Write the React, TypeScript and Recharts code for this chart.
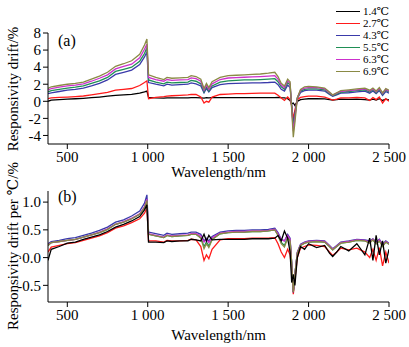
import { LineChart, Line, XAxis, YAxis } from "recharts";

const FONT = '"Liberation Serif", "Times New Roman", "DejaVu Serif", "Noto Sans CJK SC", serif';

// wavelength samples (nm)
const wavelengths = [
  380, 400, 450, 500, 550, 600, 650, 700, 750, 800, 850, 900, 950, 980, 995,
  1005, 1050, 1100, 1120, 1150, 1200, 1250, 1270, 1300, 1330, 1350, 1365, 1380, 1400, 1450,
  1500, 1550, 1600, 1650, 1700, 1750, 1790, 1810, 1830, 1850, 1870, 1885, 1895, 1905, 1915,
  1930, 1950, 1975, 2000, 2050, 2100, 2130, 2150, 2175, 2200, 2250, 2300, 2350, 2380, 2400,
  2420, 2440, 2460, 2480, 2500,
];

// (a) responsivity drift, %
const driftA14 = [
  0.0, 0.15, 0.2, 0.25, 0.3, 0.35, 0.42, 0.5, 0.6, 0.7, 0.75, 0.82, 0.95, 1.1, 1.2,
  0.45, 0.4, 0.38, 0.4, 0.4, 0.4, 0.4, 0.42, 0.42, 0.4, 0.38, 0.42, 0.4, 0.42, 0.42,
  0.42, 0.43, 0.43, 0.43, 0.43, 0.43, 0.44, 0.45, 0.42, 0.4, 0.3, 0.1, -0.3, -0.2, -0.5,
  0.0, 0.2, 0.25, 0.3, 0.3, 0.28, 0.2, 0.15, 0.2, 0.25, 0.22, 0.25, 0.2, 0.15, 0.25,
  0.15, 0.3, 0.1, 0.25, 0.15,
];
const driftA27 = [
  0.3, 0.4, 0.45, 0.5, 0.55, 0.62, 0.75, 0.9, 1.05, 1.3, 1.4, 1.5, 1.85, 2.2, 2.4,
  0.3, 0.45, 0.55, 0.6, 0.65, 0.7, 0.75, 0.8, 0.8, 0.5, -0.2, 0.0, -0.1, 0.5, 0.8,
  0.85, 0.9, 0.9, 0.92, 0.95, 0.95, 0.95, 0.7, 0.4, 0.1, 0.5, 0.2, -0.5, -2.1, -1.0,
  0.2, 0.45, 0.55, 0.6, 0.6, 0.5, 0.3, 0.15, 0.25, 0.4, 0.4, 0.45, 0.4, 0.1, 0.45,
  0.2, 0.5, -0.2, 0.3, 0.0,
];
const driftA43 = [
  0.9, 1.0, 1.15, 1.3, 1.4, 1.55, 1.8, 2.1, 2.5, 3.15, 3.4, 3.65, 4.3, 5.2, 5.8,
  2.2, 2.0, 1.8, 2.0, 1.9, 1.95, 2.0, 2.15, 2.05, 1.8, 1.0, 1.5, 1.1, 1.6, 1.95,
  2.07, 2.1, 2.12, 2.15, 2.17, 2.2, 2.25, 1.95, 1.4, 1.2, 1.9, 1.6, -0.5, -2.8, -1.5,
  0.3, 1.05, 1.25, 1.3, 1.3, 1.2, 0.8, 0.6, 0.75, 0.95, 1.0, 1.1, 1.2, 0.95, 1.2,
  0.9, 1.25, 0.7, 1.15, 0.95,
];
const driftA55 = [
  1.1, 1.25, 1.4, 1.55, 1.65, 1.8, 2.1, 2.4, 2.8, 3.5, 3.75, 4.0, 4.7, 5.6, 6.3,
  2.5, 2.25, 2.05, 2.25, 2.15, 2.2, 2.25, 2.45, 2.35, 2.05, 1.1, 1.7, 1.2, 1.8, 2.25,
  2.4, 2.45, 2.5, 2.52, 2.55, 2.6, 2.65, 2.3, 1.7, 1.4, 2.2, 1.9, -0.6, -3.0, -1.7,
  0.4, 1.2, 1.4, 1.45, 1.45, 1.35, 0.9, 0.65, 0.85, 1.05, 1.15, 1.25, 1.35, 1.1, 1.35,
  1.0, 1.4, 0.8, 1.3, 1.1,
];
const driftA63 = [
  1.3, 1.5, 1.65, 1.8, 1.9, 2.05, 2.35, 2.7, 3.1, 3.8, 4.1, 4.35, 5.1, 6.1, 6.7,
  2.8, 2.55, 2.35, 2.55, 2.45, 2.5, 2.55, 2.75, 2.65, 2.35, 1.3, 1.9, 1.4, 2.05, 2.55,
  2.73, 2.78, 2.82, 2.86, 2.9, 2.95, 3.0, 2.6, 1.9, 1.6, 2.4, 2.1, -0.8, -3.5, -2.0,
  0.4, 1.3, 1.55, 1.6, 1.6, 1.45, 1.0, 0.7, 0.95, 1.15, 1.25, 1.35, 1.45, 1.2, 1.45,
  1.1, 1.5, 0.9, 1.4, 1.2,
];
const driftA69 = [
  1.5, 1.7, 1.85, 2.0, 2.1, 2.25, 2.6, 2.95, 3.4, 4.1, 4.4, 4.75, 5.5, 6.6, 7.3,
  3.1, 2.8, 2.55, 2.8, 2.7, 2.75, 2.8, 3.0, 2.9, 2.6, 1.5, 2.1, 1.6, 2.3, 2.8,
  3.0, 3.05, 3.1, 3.15, 3.2, 3.3, 3.4, 2.9, 2.1, 1.8, 2.6, 2.3, -1.0, -4.2, -2.5,
  0.4, 1.4, 1.7, 1.75, 1.7, 1.55, 1.1, 0.75, 1.0, 1.25, 1.35, 1.45, 1.55, 1.3, 1.55,
  1.2, 1.6, 1.0, 1.5, 1.3,
];

// (b) responsivity drift per degree, %
const perB14 = [
  -0.05, 0.15, 0.2, 0.26, 0.28, 0.33, 0.37, 0.41, 0.47, 0.55, 0.6, 0.66, 0.74, 0.86, 0.95,
  0.28, 0.28, 0.27, 0.3, 0.29, 0.3, 0.3, 0.33, 0.32, 0.3, 0.42, 0.3, 0.4, 0.32, 0.33,
  0.33, 0.33, 0.33, 0.34, 0.34, 0.34, 0.35, 0.4, 0.3, 0.48, 0.35, 0.1, -0.45, -0.3, -0.5,
  0.0, 0.2, 0.15, 0.25, 0.18, 0.22, 0.08, 0.02, 0.1, 0.2, 0.12, 0.25, 0.05, 0.35, -0.05,
  0.4, 0.05, 0.3, -0.1, 0.15,
];
const perB27 = [
  0.1, 0.19, 0.22, 0.25, 0.27, 0.31, 0.35, 0.39, 0.45, 0.53, 0.57, 0.63, 0.7, 0.8, 0.9,
  0.3, 0.3, 0.28, 0.31, 0.3, 0.3, 0.31, 0.33, 0.32, 0.2, -0.05, 0.05, -0.02, 0.15, 0.32,
  0.34, 0.34, 0.34, 0.35, 0.35, 0.35, 0.36, 0.25, 0.1, 0.0, 0.15, 0.05, -0.2, -0.66, -0.4,
  0.0, 0.17, 0.2, 0.23, 0.22, 0.2, 0.1, 0.04, 0.1, 0.17, 0.14, 0.17, 0.1, 0.0, 0.15,
  -0.05, 0.18, -0.15, 0.1, -0.1,
];
const perB43 = [
  0.25, 0.29, 0.31, 0.34, 0.36, 0.4, 0.44, 0.49, 0.55, 0.64, 0.68, 0.75, 0.84, 0.98, 1.13,
  0.46, 0.43, 0.4, 0.44, 0.42, 0.43, 0.44, 0.46, 0.46, 0.42, 0.3, 0.35, 0.3, 0.38, 0.46,
  0.48, 0.49, 0.49, 0.5, 0.5, 0.51, 0.53, 0.45, 0.33, 0.3, 0.42, 0.35, -0.1, -0.63, -0.3,
  0.1, 0.24, 0.28, 0.3, 0.31, 0.3, 0.22, 0.16, 0.22, 0.28, 0.3, 0.33, 0.32, 0.3, 0.34,
  0.28, 0.33, 0.24, 0.3, 0.26,
];
const perB55 = [
  0.22, 0.27, 0.29, 0.31, 0.33, 0.37, 0.41, 0.45, 0.51, 0.6, 0.64, 0.7, 0.78, 0.9, 1.03,
  0.42, 0.39, 0.36, 0.4, 0.38, 0.39, 0.4, 0.42, 0.42, 0.36, 0.2, 0.28, 0.21, 0.33, 0.43,
  0.45, 0.46, 0.46, 0.47, 0.47, 0.48, 0.5, 0.41, 0.27, 0.22, 0.37, 0.31, -0.1, -0.62, -0.3,
  0.08, 0.22, 0.26, 0.28, 0.29, 0.28, 0.2, 0.14, 0.2, 0.26, 0.28, 0.31, 0.3, 0.27, 0.32,
  0.25, 0.3, 0.21, 0.28, 0.24,
];
const perB63 = [
  0.23, 0.27, 0.29, 0.31, 0.33, 0.37, 0.41, 0.46, 0.52, 0.6, 0.65, 0.71, 0.79, 0.92, 1.05,
  0.43, 0.4, 0.37, 0.41, 0.39, 0.4, 0.41, 0.43, 0.43, 0.39, 0.28, 0.33, 0.27, 0.36, 0.44,
  0.46, 0.47, 0.47, 0.48, 0.48, 0.49, 0.51, 0.43, 0.32, 0.3, 0.4, 0.33, -0.1, -0.62, -0.3,
  0.09, 0.23, 0.27, 0.29, 0.3, 0.29, 0.21, 0.15, 0.21, 0.27, 0.29, 0.32, 0.31, 0.28, 0.33,
  0.26, 0.32, 0.22, 0.29, 0.25,
];
const perB69 = [
  0.22, 0.27, 0.29, 0.31, 0.33, 0.37, 0.41, 0.45, 0.51, 0.6, 0.64, 0.7, 0.78, 0.9, 1.03,
  0.42, 0.39, 0.36, 0.4, 0.38, 0.39, 0.4, 0.42, 0.42, 0.35, 0.16, 0.25, 0.18, 0.32, 0.43,
  0.45, 0.46, 0.46, 0.47, 0.47, 0.48, 0.5, 0.4, 0.25, 0.19, 0.35, 0.3, -0.1, -0.62, -0.3,
  0.08, 0.22, 0.26, 0.28, 0.29, 0.28, 0.2, 0.14, 0.2, 0.26, 0.28, 0.31, 0.3, 0.26, 0.32,
  0.25, 0.3, 0.2, 0.28, 0.24,
];

const waveTicks = [500, 1000, 1500, 2000, 2500];
const ticksA = [-4, -2, 0, 2, 4, 6, 8];
const ticksB = [-0.5, 0, 0.5, 1.0];

const SERIES = [
  { key: "t14", name: "1.4℃", color: "#000000" },
  { key: "t27", name: "2.7℃", color: "#ff1a1a" },
  { key: "t43", name: "4.3℃", color: "#3a3aaa" },
  { key: "t55", name: "5.5℃", color: "#1f8f55" },
  { key: "t63", name: "6.3℃", color: "#cc30cc" },
  { key: "t69", name: "6.9℃", color: "#8a8a45" },
];

const rowsA = wavelengths.map((w, i) => ({
  w,
  t14: driftA14[i],
  t27: driftA27[i],
  t43: driftA43[i],
  t55: driftA55[i],
  t63: driftA63[i],
  t69: driftA69[i],
}));

const rowsB = wavelengths.map((w, i) => ({
  w,
  t14: perB14[i],
  t27: perB27[i],
  t43: perB43[i],
  t55: perB55[i],
  t63: perB63[i],
  t69: perB69[i],
}));

function fmtWave(v: number) {
  if (v < 1000) return String(v);
  return `${Math.floor(v / 1000)} ${String(v % 1000).padStart(3, "0")}`;
}

const tickStyle = { fill: "#000", fontSize: 15, fontFamily: FONT };

function Panel({ data, height, top, margin, domain, ticks, yFmt, order }: any) {
  return (
    <div style={{ position: "absolute", left: 0, top }}>
      <LineChart width={409} height={height} data={data} margin={margin}>
        <XAxis
          dataKey="w"
          type="number"
          domain={[380, 2500]}
          ticks={waveTicks}
          tickFormatter={fmtWave}
          allowDataOverflow
          interval={0}
          height={26}
          tickSize={5}
          tick={tickStyle}
          axisLine={{ stroke: "#000" }}
          tickLine={{ stroke: "#000" }}
        />
        <YAxis
          type="number"
          domain={domain}
          ticks={ticks}
          tickFormatter={yFmt}
          allowDataOverflow
          interval={0}
          width={48}
          tickSize={5}
          tick={tickStyle}
          axisLine={{ stroke: "#000" }}
          tickLine={{ stroke: "#000" }}
        />
        {order.map((k: string) => {
          const s = SERIES.find((x) => x.key === k)!;
          return (
            <Line
              key={k}
              type="linear"
              dataKey={k}
              name={s.name}
              stroke={s.color}
              strokeWidth={1.3}
              dot={false}
              isAnimationActive={false}
            />
          );
        })}
      </LineChart>
    </div>
  );
}

const abs = (extra: any) => ({ position: "absolute" as const, whiteSpace: "nowrap" as const, ...extra });

export default function App() {
  return (
    <div
      style={{
        position: "absolute",
        left: 0,
        top: 0,
        width: 409,
        height: 347,
        background: "#fff",
        fontFamily: FONT,
        color: "#000",
      }}
    >
      <Panel
        data={rowsA}
        height={170}
        top={0}
        margin={{ top: 33, right: 20, bottom: 0, left: 0 }}
        domain={[-5, 8]}
        ticks={ticksA}
        yFmt={(v: number) => String(v)}
        order={["t14", "t27", "t43", "t55", "t63", "t69"]}
      />
      <Panel
        data={rowsB}
        height={177}
        top={170}
        margin={{ top: 21, right: 20, bottom: 19, left: 0 }}
        domain={[-0.8, 1.2]}
        ticks={ticksB}
        yFmt={(v: number) => v.toFixed(1)}
        order={["t27", "t43", "t55", "t63", "t69", "t14"]}
      />

      <div style={abs({ left: 58, top: 32, fontSize: 16 })}>(a)</div>
      <div style={abs({ left: 58, top: 188, fontSize: 16 })}>(b)</div>

      <div style={abs({ left: 218.5, top: 172, fontSize: 15, transform: "translate(-50%, -50%)" })}>
        Wavelength/nm
      </div>
      <div style={abs({ left: 218.5, top: 335, fontSize: 15, transform: "translate(-50%, -50%)" })}>
        Wavelength/nm
      </div>

      <div style={abs({ left: 13, top: 88.5, fontSize: 15, transform: "translate(-50%, -50%) rotate(-90deg)" })}>
        Responsivity drift/%
      </div>
      <div style={abs({ left: 13, top: 246, fontSize: 15, transform: "translate(-50%, -50%) rotate(-90deg)" })}>
        Responsivity drift per ℃/%
      </div>

      {SERIES.map((s, i) => (
        <div key={s.key} style={abs({ left: 336, top: 11 + i * 12 - 5.5, height: 11, display: "flex", alignItems: "center" })}>
          <span style={{ display: "inline-block", width: 24, borderTop: `1.6px solid ${s.color}`, marginRight: 3 }} />
          <span style={{ fontSize: 11, lineHeight: "11px" }}>{s.name}</span>
        </div>
      ))}
    </div>
  );
}
